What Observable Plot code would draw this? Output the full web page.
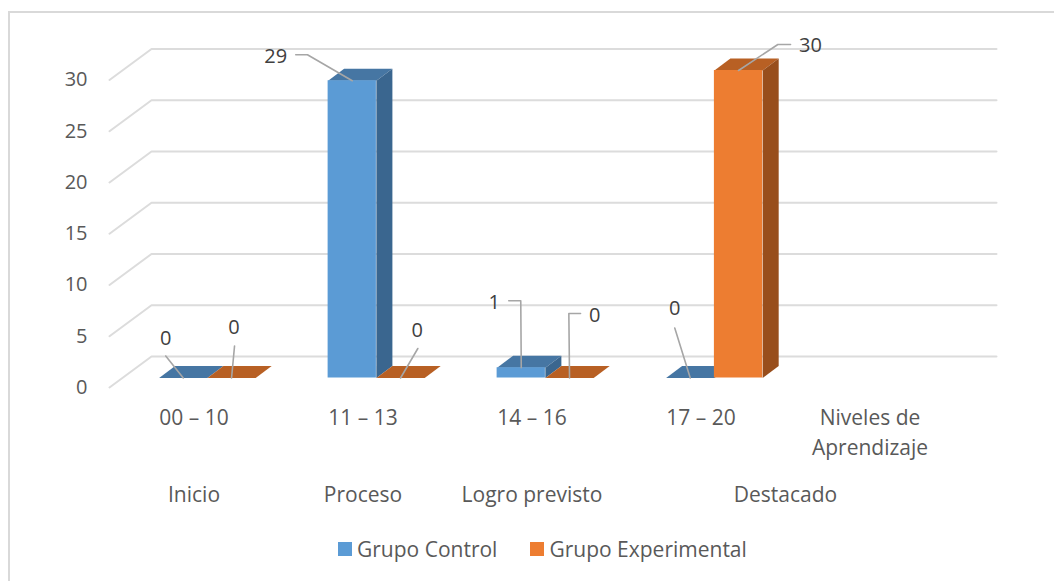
<!DOCTYPE html>
<html>
<head>
<meta charset="utf-8">
<script src="https://cdn.jsdelivr.net/npm/d3@7"></script>
<script src="https://cdn.jsdelivr.net/npm/@observablehq/plot@0.6"></script>
<style>
  html, body { margin: 0; padding: 0; background: #fff; }
  #frame { position: absolute; left: 8px; top: 11px; right: 0; bottom: 0; border-left: 2px solid #d9d9d9; border-top: 2px solid #d9d9d9; }
  #chart { position: absolute; left: 0; top: 0; }
  #legend { position: absolute; left: 338px; top: 535px; display: flex; align-items: center; font: 21px "Open Sans", sans-serif; color: #595959; }
  #legend i { display: inline-block; width: 14px; height: 14px; margin-right: 5px; }
  #legend span { display: inline-flex; align-items: center; }
</style>
</head>
<body>
<div id="frame"></div>
<div id="chart"></div>
<div id="legend"></div>
<script>
// ---- chart values ----
const rangos = ["00 – 10", "11 – 13", "14 – 16", "17 – 20", "Niveles de\nAprendizaje"];
const grupoControl = [0, 29, 1, 0];
const grupoExperimental = [0, 0, 0, 30];
const series = ["Grupo Control", "Grupo Experimental"];
const niveles = ["Inicio", "Proceso", "Logro previsto", "Destacado"];
const nivelSpan = [[0, 1], [1, 2], [2, 3], [3, 5]];
const yTicks = [0, 5, 10, 15, 20, 25, 30];

// ---- look ----
const colors = [
  {front: "#5b9bd5", top: "#4676a3", side: "#3a668f"},
  {front: "#ed7d31", top: "#b86024", side: "#984e1c"}
];
const font = '"Open Sans", sans-serif';
const fs = 21, fsNum = 20;
const pxX = 169, pxY = 10.25;              // px per category, px per unit
const wall = {x: 42 / pxX, y: 31 / pxY};   // depth of the floor
const inset = {x: 13.4 / pxX, y: 9.5 / pxY}; // bar distance from the front of the floor
const deep = {x: 16 / pxX, y: 12 / pxY};   // depth of a bar
const barW = 1 / 3.5, gapW = 0.75 * barW;

// leader paths, in px from each bar's front top centre: [control..., experimental...]
const leaderPx = [
  [[[-17.5, -22]], [[3, -32]]],
  [[[-56.5, -26], [-44.8, -26]], [[17.3, -29.5]]],
  [[[-12.5, -67], [-0.5, -67]], [[11, -64.5], [-0.7, -64.5]]],
  [[[-15.5, -50]], [[52, -26], [39.3, -26]]]
];
const labelPx = [
  [[-17.5, -39.5], [2.5, -50]],
  [[-76.5, -24], [16.7, -47]],
  [[-27, -65.5], [25.3, -62.5]],
  [[-15.5, -69], [72, -25.3]]
];

// ---- derived tables ----
const bars = [];
[grupoControl, grupoExperimental].forEach((vals, s) => vals.forEach((v, i) => {
  const x1 = i + gapW + inset.x + s * barW;
  bars.push({i, s, v, x1, x2: x1 + barW, y1: inset.y, y2: inset.y + v, cx: x1 + barW / 2});
}));
const faces = [];
bars.forEach(b => {
  const id = b.i + "-" + b.s;
  const poly = (kind, pts) => pts.forEach(([x, y]) => faces.push({id: id + kind, x, y, fill: colors[b.s][kind]}));
  poly("top", [[b.x1, b.y2], [b.x1 + deep.x, b.y2 + deep.y], [b.x2 + deep.x, b.y2 + deep.y], [b.x2, b.y2]]);
  poly("side", [[b.x2, b.y1], [b.x2 + deep.x, b.y1 + deep.y], [b.x2 + deep.x, b.y2 + deep.y], [b.x2, b.y2]]);
});
const grid = yTicks.flatMap(v => [
  {v, x: 0, y: v},
  {v, x: wall.x, y: v + wall.y},
  {v, x: rangos.length + wall.x, y: v + wall.y}
]);
const leaders = [];
const labels = [];
bars.forEach(b => {
  const fromPx = ([dx, dy]) => ({x: b.cx + dx / pxX, y: b.y2 - dy / pxY});
  const id = b.i + "-" + b.s;
  leaderPx[b.i][b.s].forEach(p => leaders.push({id, ...fromPx(p)}));
  leaders.push({id, x: b.cx, y: b.y2});
  labels.push({...fromPx(labelPx[b.i][b.s]), text: String(b.v)});
});
const tickRow = rangos.map((t, i) => ({x: i + 0.5, text: t}));
const nivelRow = niveles.map((t, i) => ({x: (nivelSpan[i][0] + nivelSpan[i][1]) / 2, text: t}));
const rowY1 = (387 - 403) / pxY, rowY2 = (387 - 495) / pxY;

const chart = Plot.plot({
  width: 1054,
  height: 530,
  marginLeft: 109,
  marginRight: 100,
  marginTop: 0,
  marginBottom: 0,
  style: {background: "transparent", fontFamily: font},
  x: {domain: [0, rangos.length], range: [109, 954], axis: null},
  y: {domain: [0, 30], range: [387, 79.5], axis: null},
  color: {type: "identity"},
  marks: [
    Plot.line(grid, {x: "x", y: "y", z: "v", stroke: "#dcdcdc", strokeWidth: 2, curve: "linear"}),
    Plot.line(faces, {x: "x", y: "y", z: "id", fill: "fill", stroke: "none", curve: "linear"}),
    Plot.rect(bars, {x1: "x1", x2: "x2", y1: "y1", y2: "y2", fill: d => colors[d.s].front}),
    Plot.line(leaders, {x: "x", y: "y", z: "id", stroke: "#a6a6a6", strokeWidth: 1.6, curve: "linear"}),
    Plot.axisY({ticks: yTicks, tickSize: 0, tickPadding: 22, label: null, fontSize: fsNum, fill: "#595959"}),
    Plot.text(tickRow, {x: "x", y: rowY1, text: "text", lineAnchor: "top", lineHeight: 1.43, fontSize: fs, fill: "#595959"}),
    Plot.text(nivelRow, {x: "x", y: rowY2, text: "text", fontSize: fs, fill: "#595959"}),
    Plot.text(labels, {x: "x", y: "y", text: "text", fontSize: fsNum, fill: "#404040"})
  ]
});
document.getElementById("chart").append(chart);

const legend = document.getElementById("legend");
series.forEach((name, s) => {
  const item = document.createElement("span");
  item.style.marginRight = s === 0 ? "33px" : "0";
  const sw = document.createElement("i");
  sw.style.background = colors[s].front;
  item.append(sw, name);
  legend.append(item);
});
</script>
</body>
</html>
